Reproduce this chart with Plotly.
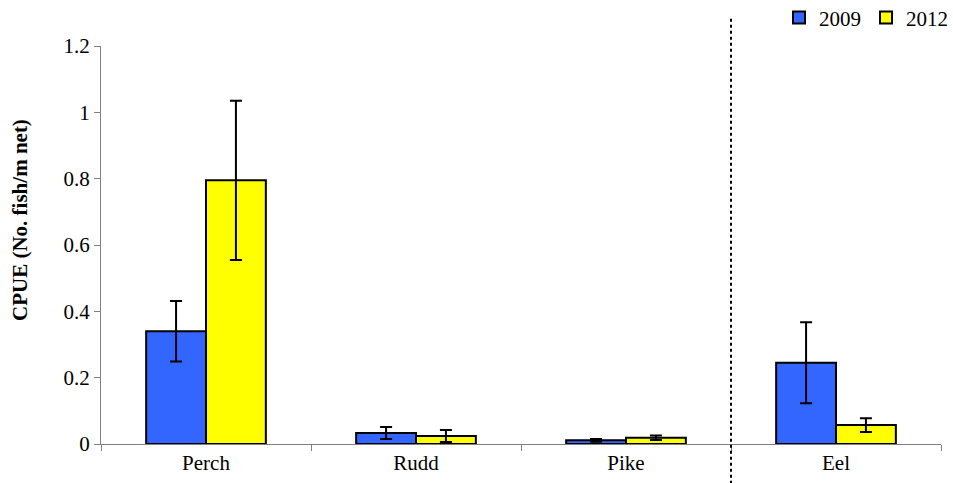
import plotly.graph_objects as go

species = ["Perch", "Rudd", "Pike", "Eel"]
cpue_2009 = [0.340, 0.033, 0.011, 0.245]
err_2009 = [0.091, 0.018, 0.004, 0.122]
cpue_2012 = [0.795, 0.024, 0.019, 0.057]
err_2012 = [0.240, 0.018, 0.007, 0.021]
y_ticks = [0, 0.2, 0.4, 0.6, 0.8, 1, 1.2]
y_tick_text = ["0", "0.2", "0.4", "0.6", "0.8", "1", "1.2"]

font_family = "Liberation Serif"

fig = go.Figure()
fig.add_trace(go.Bar(
    name="2009", x=species, y=cpue_2009,
    marker=dict(color="#3366FF", line=dict(color="black", width=2)),
    error_y=dict(type="data", array=err_2009, color="black", thickness=2, width=6),
))
fig.add_trace(go.Bar(
    name="2012", x=species, y=cpue_2012,
    marker=dict(color="#FFFF00", line=dict(color="black", width=2)),
    error_y=dict(type="data", array=err_2012, color="black", thickness=2, width=6),
))

# dotted separator between the freshwater species and eel
fig.add_shape(type="line", xref="x", yref="paper",
              x0=2.5, x1=2.5, y0=-0.1, y1=1.07,
              line=dict(color="black", width=2, dash="dot"))

# rotated y-axis title, set slightly above the plot's mid-height
fig.add_annotation(text="<b>CPUE (No. fish/m net)</b>", textangle=-90,
                   xref="paper", yref="paper", x=-0.0964, y=0.563,
                   xanchor="center", yanchor="middle", showarrow=False,
                   font=dict(size=21))

fig.update_layout(
    width=953, height=483,
    margin=dict(l=101, r=12, t=46, b=39, autoexpand=False),
    paper_bgcolor="white", plot_bgcolor="white",
    barmode="group", bargap=0.43, bargroupgap=0,
    font=dict(family=font_family, size=21, color="black"),
    showlegend=True,
    legend=dict(orientation="h", yref="container", xref="container",
                x=1.0, xanchor="right", y=0.963, yanchor="middle",
                font=dict(size=21), itemwidth=30, tracegroupgap=0,
                bgcolor="rgba(0,0,0,0)"),
    xaxis=dict(showline=True, linecolor="#808080", linewidth=1,
               ticks="outside", tickson="boundaries", ticklen=6, tickcolor="#808080",
               tickfont=dict(size=21), showgrid=False, zeroline=False, automargin=False),
    yaxis=dict(range=[0, 1.2], tickvals=y_ticks, ticktext=y_tick_text,
               showline=True, linecolor="#808080", linewidth=1,
               ticks="outside", ticklen=6, tickcolor="#808080",
               showgrid=False, zeroline=False, tickfont=dict(size=21), automargin=False),
)

fig.write_html("out.html")
